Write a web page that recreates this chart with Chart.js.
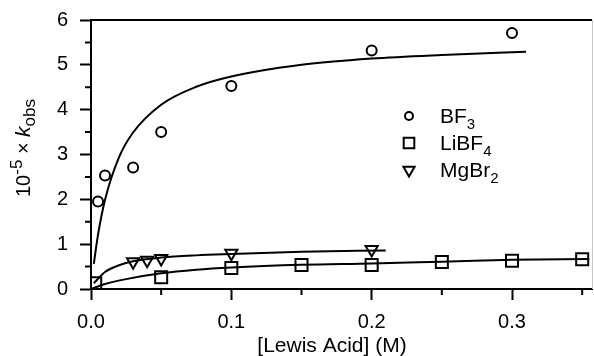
<!DOCTYPE html>
<html>
<head>
<meta charset="utf-8">
<script src="https://cdn.jsdelivr.net/npm/chart.js@4.4.1/dist/chart.umd.min.js"></script>
<style>
  html, body { margin: 0; padding: 0; background: #fff; }
  #wrap { width: 594px; height: 356px; position: relative; }
</style>
</head>
<body>
<div id="wrap"><canvas id="kobsChart"></canvas></div>
<script>
// measured points
const bf3X = [0.005, 0.01, 0.03, 0.05, 0.1, 0.2, 0.3];
const bf3Y = [1.95, 2.53, 2.71, 3.50, 4.53, 5.32, 5.71];
const libf4X = [0.003, 0.05, 0.1, 0.15, 0.2, 0.25, 0.3, 0.35];
const libf4Y = [0.13, 0.26, 0.47, 0.535, 0.535, 0.60, 0.63, 0.665];
const mgbr2X = [0.03, 0.04, 0.05, 0.1, 0.2];
const mgbr2Y = [0.61, 0.64, 0.68, 0.80, 0.88];

// fitted curves
const bf3FitX = [0.002, 0.005, 0.01, 0.02, 0.03, 0.05, 0.075, 0.1, 0.15, 0.2, 0.25, 0.31];
const bf3FitY = [0.56, 1.21, 1.99, 2.94, 3.49, 4.11, 4.51, 4.74, 5.00, 5.14, 5.22, 5.29];
const libf4FitX = [0, 0.01, 0.025, 0.05, 0.075, 0.1, 0.15, 0.2, 0.25, 0.3, 0.355];
const libf4FitY = [0, 0.11, 0.22, 0.35, 0.43, 0.48, 0.54, 0.57, 0.61, 0.65, 0.67];
const mgbr2FitX = [0.002, 0.01, 0.02, 0.03, 0.05, 0.075, 0.1, 0.15, 0.21];
const mgbr2FitY = [0.13, 0.38, 0.53, 0.62, 0.70, 0.75, 0.78, 0.83, 0.86];

// axis ticks
const xMajorTicks = [0, 0.1, 0.2, 0.3];
const yMajorTicks = [0, 1, 2, 3, 4, 5, 6];

const FONT = '"Liberation Sans", Arial, Helvetica, sans-serif';

const pts = (xs, ys) => xs.map((x, i) => ({ x: x, y: ys[i] }));
const isMajorX = v => xMajorTicks.some(t => Math.abs(t - v) < 1e-6);
const isMajorY = v => yMajorTicks.some(t => Math.abs(t - v) < 1e-6);

// legend entries: label split into normal + subscript
const legendItems = [
    { base: 'BF', sub: '3', style: 'circle', radius: 4, rotation: 0 },
    { base: 'LiBF', sub: '4', style: 'rect', radius: 7.5, rotation: 0 },
    { base: 'MgBr', sub: '2', style: 'triangle', radius: 6.5, rotation: 180 }
];

function drawParts(ctx, parts, x, y) {
    let cx = x;
    parts.forEach(p => {
        ctx.font = (p.italic ? 'italic ' : '') + p.size + 'px ' + FONT;
        ctx.fillText(p.t, cx, y + (p.dy || 0));
        cx += ctx.measureText(p.t).width;
    });
    return cx - x;
}

function partsWidth(ctx, parts) {
    let w = 0;
    parts.forEach(p => {
        ctx.font = (p.italic ? 'italic ' : '') + p.size + 'px ' + FONT;
        w += ctx.measureText(p.t).width;
    });
    return w;
}

const decorPlugin = {
    id: 'decor',
    afterDraw(chart) {
        const ctx = chart.ctx;
        const area = chart.chartArea;
        const xs = chart.scales.x;
        const ys = chart.scales.y;
        ctx.save();
        ctx.strokeStyle = '#000';
        ctx.fillStyle = '#000';
        ctx.lineWidth = 2;

        // minor ticks
        ctx.beginPath();
        xs.ticks.forEach(t => {
            if (isMajorX(t.value)) return;
            const px = xs.getPixelForValue(t.value);
            ctx.moveTo(px, area.bottom);
            ctx.lineTo(px, area.bottom + 6);
        });
        ys.ticks.forEach(t => {
            if (isMajorY(t.value)) return;
            const py = ys.getPixelForValue(t.value);
            ctx.moveTo(area.left, py);
            ctx.lineTo(area.left - 6, py);
        });
        ctx.stroke();

        // frame top and right
        ctx.beginPath();
        ctx.moveTo(area.left, area.top);
        ctx.lineTo(area.right, area.top);
        ctx.stroke();
        ctx.strokeStyle = '#c8c8c8';
        ctx.lineWidth = 1;
        ctx.beginPath();
        ctx.moveTo(area.right + 0.5, area.top);
        ctx.lineTo(area.right + 0.5, area.bottom);
        ctx.stroke();

        // x title
        ctx.textBaseline = 'alphabetic';
        ctx.textAlign = 'left';
        const xt = [{ t: '[Lewis Acid] (M)', size: 21 }];
        drawParts(ctx, xt, 332 - partsWidth(ctx, xt) / 2, 352);

        // y title, rotated
        const yt = [
            { t: '10', size: 20 },
            { t: '-5', size: 17, dy: -8 },
            { t: ' \u00d7 ', size: 20 },
            { t: 'k', size: 21, italic: true },
            { t: 'obs', size: 17, dy: 5 }
        ];
        ctx.save();
        ctx.translate(30, 148);
        ctx.rotate(-Math.PI / 2);
        drawParts(ctx, yt, -partsWidth(ctx, yt) / 2, 0);
        ctx.restore();

        // legend
        legendItems.forEach((item, i) => {
            const my = 116 + i * 27;
            ctx.strokeStyle = '#000';
            ctx.fillStyle = 'rgba(0,0,0,0)';
            ctx.lineWidth = 2;
            Chart.helpers.drawPoint(ctx, {
                pointStyle: item.style,
                radius: item.radius,
                rotation: item.rotation,
                borderWidth: 2
            }, 409, my);
            ctx.fillStyle = '#000';
            drawParts(ctx, [
                { t: item.base, size: 21 },
                { t: item.sub, size: 15, dy: 6 }
            ], 440, my + 7);
        });
        ctx.restore();
    }
};

const markerDefaults = {
    showLine: false,
    borderColor: '#000',
    backgroundColor: 'rgba(0,0,0,0)',
    pointBorderWidth: 2
};
const fitDefaults = {
    showLine: true,
    borderColor: '#000',
    borderWidth: 2,
    pointRadius: 0,
    cubicInterpolationMode: 'monotone'
};

new Chart(document.getElementById('kobsChart'), {
    type: 'scatter',
    data: {
        datasets: [
            Object.assign({ label: 'BF3 fit', data: pts(bf3FitX, bf3FitY) }, fitDefaults),
            Object.assign({ label: 'LiBF4 fit', data: pts(libf4FitX, libf4FitY) }, fitDefaults),
            Object.assign({ label: 'MgBr2 fit', data: pts(mgbr2FitX, mgbr2FitY) }, fitDefaults),
            Object.assign({ label: 'BF3', data: pts(bf3X, bf3Y), pointStyle: 'circle', pointRadius: 5 }, markerDefaults),
            Object.assign({ label: 'LiBF4', data: pts(libf4X, libf4Y), pointStyle: 'rect', pointRadius: 8.5 }, markerDefaults),
            Object.assign({ label: 'MgBr2', data: pts(mgbr2X, mgbr2Y), pointStyle: 'triangle', pointRadius: 7, pointRotation: 180 }, markerDefaults)
        ]
    },
    options: {
        responsive: true,
        maintainAspectRatio: false,
        animation: false,
        layout: { autoPadding: false, padding: { top: 20, right: 2, left: 0, bottom: 0 } },
        plugins: {
            legend: { display: false },
            tooltip: { enabled: false }
        },
        scales: {
            x: {
                type: 'linear',
                min: 0,
                max: 0.357,
                afterFit: s => {
                    s.height = 67;
                    s.paddingLeft = 0;
                    s.paddingRight = 0;
                },
                border: { display: true, color: '#000', width: 2 },
                grid: {
                    drawOnChartArea: false,
                    drawTicks: true,
                    tickLength: 11,
                    tickWidth: 2,
                    tickColor: c => (c.tick && isMajorX(c.tick.value)) ? '#000' : 'rgba(0,0,0,0)'
                },
                ticks: {
                    stepSize: 0.05,
                    autoSkip: false,
                    includeBounds: false,
                    maxRotation: 0,
                    padding: 10,
                    color: '#000',
                    font: { family: FONT, size: 20 },
                    callback: v => isMajorX(v) ? v.toFixed(1) : ''
                }
            },
            y: {
                type: 'linear',
                min: 0,
                max: 6,
                afterFit: s => {
                    s.width = 91;
                    s.paddingTop = 0;
                    s.paddingBottom = 0;
                },
                border: { display: true, color: '#000', width: 2 },
                grid: {
                    drawOnChartArea: false,
                    drawTicks: true,
                    tickLength: 11,
                    tickWidth: 2,
                    tickColor: c => (c.tick && isMajorY(c.tick.value)) ? '#000' : 'rgba(0,0,0,0)'
                },
                ticks: {
                    stepSize: 0.5,
                    autoSkip: false,
                    padding: 12,
                    color: '#000',
                    font: { family: FONT, size: 20 },
                    callback: v => isMajorY(v) ? String(Math.round(v)) : ''
                }
            }
        }
    },
    plugins: [decorPlugin]
});
</script>
</body>
</html>
